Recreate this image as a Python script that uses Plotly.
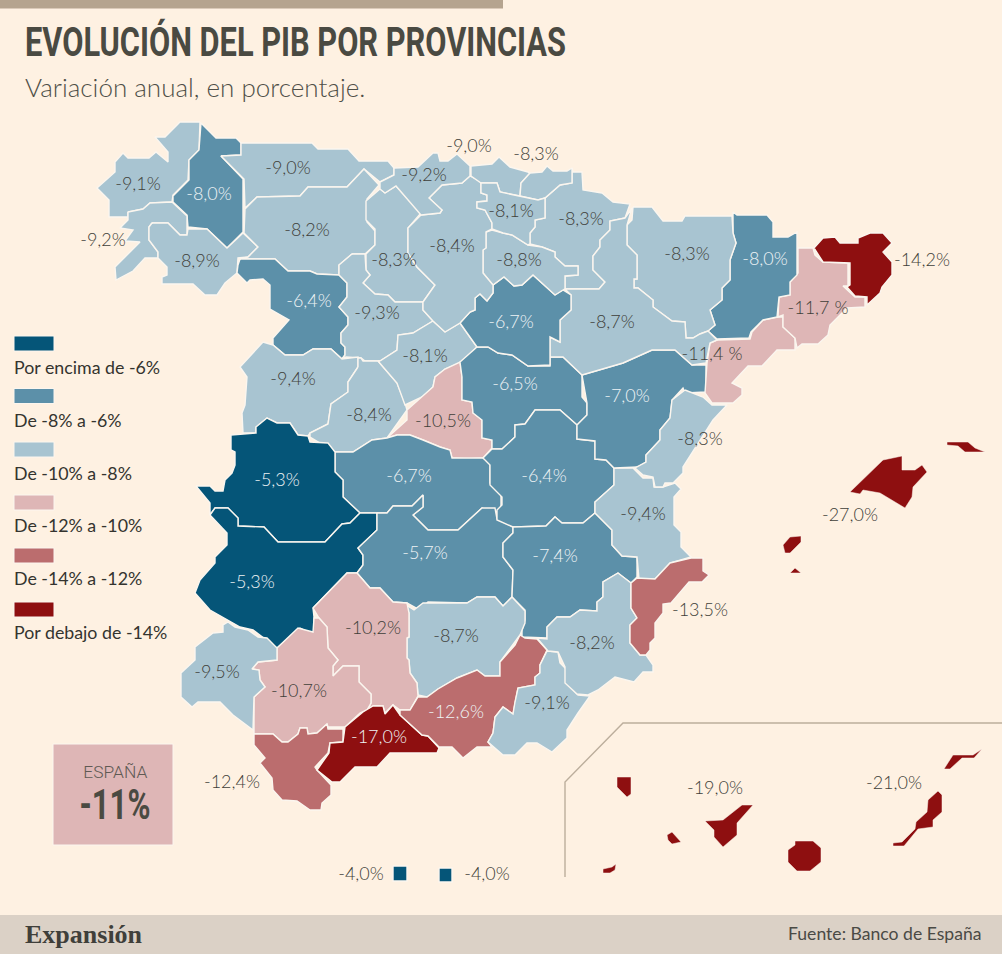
import json
import plotly.graph_objects as go

TITLE = "EVOLUCIÓN DEL PIB POR PROVINCIAS"
SUBTITLE = "Variación anual, en porcentaje."
SOURCE = "Fuente: Banco de España"
BRAND = "Expansión"
NATIONAL_LABEL = "ESPAÑA"
NATIONAL_VALUE = "-11%"

BG = "#fef1e2"
COLORS = ["#055578", "#5c90a9", "#a8c4d1", "#deb6b6", "#bb6d6e", "#8e0f10"]
LEGEND_LABELS = ["Por encima de -6%", "De -8% a -6%", "De -10% a -8%",
                 "De -12% a -10%", "De -14% a -12%", "Por debajo de -14%"]
LEGEND_Y = [336, 388.5, 442, 495, 548, 602]
LEGEND_TEXT_Y = [367, 420, 473, 525, 578, 632]

# Province outlines, in the picture's own map units
PROVINCES = {
 "A Coruña": (-9.1, [[(200,122),(180,122),(165,137),(155,137),(168,152),(168,162),(156,152),(149,158),(128,158),(123,153),(115,162),(115,172),(97,188),(109,200),(109,217),(128,217),(128,212),(143,209),(150,203),(172,202),(173,195),(188,180),(189,160),(199,150)]]),
 "Lugo": (-8.0, [[(201,123),(216,138),(236,138),(241,143),(241,155),(221,156),(243,179),(243,232),(227,248),(207,229),(188,227),(187,215),(173,202),(173,196),(189,180),(189,160),(199,150)]]),
 "Pontevedra": (-9.2, [[(128,212),(143,209),(150,203),(172,202),(187,216),(187,235),(180,235),(168,223),(152,223),(149,227),(149,240),(158,252),(158,258),(145,258),(133,271),(116,280),(115,267),(140,242),(125,241),(133,230),(120,228),(128,220)]]),
 "Ourense": (-8.9, [[(152,223),(168,223),(180,235),(187,235),(188,229),(207,229),(227,248),(243,233),(258,247),(248,257),(238,258),(237,273),(225,283),(217,295),(205,295),(193,284),(162,284),(162,277),(167,275),(167,267),(158,258),(158,252),(149,240),(149,227)]]),
 "Asturias": (-9.0, [[(241,143),(312,143),(318,149),(348,149),(359,161),(388,161),(394,168),(394,175),(380,182),(364,169),(347,187),(308,187),(300,196),(257,197),(245,208),(244,179),(221,156),(241,155)]]),
 "León": (-8.2, [[(245,209),(257,197),(300,196),(308,187),(347,187),(364,169),(379,185),(367,199),(367,222),(375,231),(375,245),(365,254),(352,254),(339,265),(339,275),(317,274),(310,271),(288,271),(275,259),(240,259),(248,257),(258,247),(244,233)]]),
 "Zamora": (-6.4, [[(240,259),(275,259),(288,271),(310,271),(317,274),(339,275),(347,283),(347,297),(339,307),(348,317),(348,325),(341,333),(341,343),(345,347),(345,355),(342,359),(331,349),(313,349),(303,355),(285,355),(273,345),(273,338),(289,320),(270,309),(270,285),(263,279),(250,280),(247,283),(237,273),(238,265)]]),
 "Palencia": (-8.3, [[(380,189),(385,193),(396,186),(421,213),(408,228),(408,253),(417,267),(435,285),(423,302),(395,302),(388,295),(375,294),(363,283),(370,275),(366,270),(366,254),(375,245),(375,229),(366,220),(366,201)]]),
 "Valladolid": (-9.3, [[(352,254),(365,254),(366,270),(370,275),(363,283),(375,294),(388,295),(395,302),(423,302),(423,310),(433,321),(423,327),(413,333),(398,335),(397,350),(380,361),(365,361),(361,358),(346,357),(342,359),(345,355),(345,347),(341,343),(341,333),(348,325),(348,317),(339,307),(347,297),(347,283),(339,275),(339,265)]]),
 "Salamanca": (-9.4, [[(263,342),(273,345),(285,355),(303,355),(313,349),(331,349),(342,359),(358,357),(358,367),(348,382),(348,392),(331,404),(328,424),(310,433),(308,436),(298,435),(290,423),(277,423),(267,418),(256,427),(256,433),(243,433),(242,413),(245,405),(247,377),(240,367)]]),
 "Ávila": (-8.4, [[(358,367),(348,382),(348,392),(331,404),(328,424),(310,433),(310,437),(335,452),(353,452),(372,440),(387,438),(407,410),(405,403),(397,383),(378,361),(363,361),(361,358),(358,358)]]),
 "Segovia": (-8.1, [[(380,361),(397,350),(398,335),(413,333),(423,327),(433,321),(445,332),(460,323),(477,347),(462,362),(460,363),(445,369),(435,377),(433,387),(422,397),(405,405),(397,383),(378,361)]]),
 "Madrid": (-10.5, [[(387,438),(407,420),(407,410),(422,397),(433,387),(435,377),(445,369),(460,362),(462,377),(462,400),(472,402),(473,413),(482,420),(482,438),(492,440),(492,448),(483,458),(468,459),(452,458),(450,450),(440,447),(423,440),(410,435),(397,435)]]),
 "Toledo": (-6.7, [[(335,452),(353,452),(372,440),(387,438),(397,435),(410,435),(423,440),(440,447),(450,450),(452,458),(483,458),(490,463),(490,483),(501,495),(501,508),(495,513),(482,508),(458,530),(428,530),(413,515),(423,507),(423,495),(412,506),(393,506),(387,513),(360,513),(343,497),(343,480),(335,472)]]),
 "Cáceres": (-5.3, [[(196,486),(210,486),(215,491),(223,491),(225,480),(232,473),(235,465),(235,452),(231,450),(231,435),(256,433),(256,427),(267,418),(277,423),(290,423),(298,435),(308,436),(310,442),(328,443),(335,452),(335,472),(343,480),(343,497),(360,513),(350,523),(342,524),(325,542),(278,542),(264,527),(238,526),(238,518),(228,508),(215,508),(210,515),(210,503)]]),
 "Badajoz": (-5.3, [[(210,515),(215,508),(228,508),(238,518),(238,526),(264,527),(278,542),(325,542),(342,524),(350,523),(360,513),(377,513),(377,530),(358,548),(363,555),(363,565),(357,573),(347,573),(313,608),(314,617),(314,635),(300,628),(277,648),(253,630),(240,627),(228,620),(210,610),(195,593),(200,580),(215,563),(215,557),(227,545),(227,533)]]),
 "Ciudad Real": (-5.7, [[(377,513),(387,513),(393,506),(412,506),(423,495),(423,507),(413,515),(428,530),(458,530),(482,508),(495,508),(497,519),(513,527),(513,533),(503,543),(503,557),(513,570),(512,597),(503,606),(495,597),(477,597),(467,603),(428,602),(420,610),(407,603),(393,602),(380,588),(370,588),(357,573),(363,565),(363,555),(358,548),(377,530)]]),
 "Guadalajara": (-6.5, [[(477,347),(488,347),(498,353),(512,355),(528,366),(550,366),(550,357),(563,357),(582,375),(582,397),(587,403),(587,415),(577,425),(560,410),(535,410),(525,424),(515,425),(515,437),(502,449),(492,449),(492,440),(482,438),(482,420),(473,413),(472,402),(462,400),(462,377),(460,362)]]),
 "Cuenca": (-6.4, [[(492,449),(502,449),(515,437),(515,425),(525,424),(535,410),(560,410),(577,425),(577,439),(595,441),(595,459),(606,460),(614,468),(614,485),(595,502),(595,513),(583,523),(562,523),(555,517),(546,526),(513,527),(497,520),(497,510),(502,505),(502,497),(490,485),(490,465),(483,458)]]),
 "Albacete": (-7.4, [[(513,527),(546,526),(555,517),(562,523),(583,523),(595,513),(612,530),(612,545),(622,556),(637,557),(637,577),(631,583),(618,573),(603,582),(603,597),(597,602),(597,611),(580,610),(570,617),(557,617),(547,627),(547,638),(522,637),(522,630),(525,620),(525,610),(512,597),(513,570),(503,557),(503,543),(513,533)]]),
 "Valencia": (-9.4, [[(614,468),(633,468),(643,478),(653,478),(654,487),(663,487),(675,483),(681,489),(674,497),(674,525),(681,532),(681,547),(691,557),(670,563),(655,579),(639,579),(637,557),(622,556),(612,545),(612,530),(595,513),(595,502),(614,485)]]),
 "Teruel": (-7.0, [[(582,375),(605,368),(623,363),(652,350),(675,350),(692,365),(706,365),(706,392),(685,393),(683,388),(672,400),(670,418),(660,430),(660,440),(646,455),(646,462),(638,467),(614,468),(606,460),(595,459),(595,441),(577,439),(577,425),(587,415),(587,403)]]),
 "Castellón": (-8.3, [[(685,390),(703,397),(712,405),(727,405),(713,420),(683,467),(683,473),(673,483),(665,483),(663,487),(655,487),(653,477),(643,475),(635,468),(646,462),(646,455),(660,440),(660,430),(670,418),(672,400)]]),
 "Tarragona": (-11.4, [[(717,340),(750,339),(752,332),(763,320),(778,317),(783,317),(783,327),(795,338),(795,350),(777,350),(762,366),(748,366),(732,383),(742,388),(742,395),(733,403),(712,403),(705,393),(707,363),(710,343)]]),
 "Barcelona": (-11.7, [[(798,248),(813,248),(815,255),(823,262),(848,263),(848,286),(843,286),(855,297),(865,297),(865,307),(847,308),(830,325),(828,335),(818,344),(802,344),(797,348),(795,338),(783,327),(783,315),(778,317),(779,297),(790,295),(790,282),(798,273)]]),
 "Girona": (-14.2, [[(814,248),(823,238),(835,237),(840,243),(858,243),(858,238),(870,233),(883,233),(892,243),(883,252),(892,262),(892,275),(882,287),(880,293),(867,305),(867,297),(855,296),(847,287),(850,285),(850,263),(823,262)]]),
 "Lleida": (-8.0, [[(733,212),(737,215),(767,215),(773,222),(773,237),(788,237),(797,232),(797,275),(790,282),(790,295),(779,297),(777,317),(763,320),(751,332),(749,338),(717,339),(708,331),(715,325),(710,310),(722,300),(722,288),(730,280),(730,260),(736,243),(733,233)]]),
 "Huesca": (-8.3, [[(633,207),(652,207),(663,221),(682,221),(685,216),(732,216),(733,233),(736,243),(730,260),(730,280),(722,288),(722,300),(710,310),(715,325),(708,331),(700,334),(693,338),(686,338),(685,322),(672,321),(653,307),(653,300),(638,288),(634,288),(634,279),(637,279),(637,255),(627,245),(627,225),(632,220)]]),
 "Navarra": (-8.3, [[(572,168),(573,172),(582,172),(583,190),(602,193),(613,202),(630,204),(625,218),(610,221),(610,230),(600,240),(600,247),(593,256),(593,270),(605,282),(599,289),(565,289),(565,276),(578,275),(578,266),(565,266),(555,257),(555,252),(542,247),(530,244),(530,233),(535,227),(535,220),(545,218),(545,198),(560,185),(572,183)]]),
 "Zaragoza": (-8.7, [[(632,208),(627,225),(627,245),(637,255),(637,279),(634,279),(634,288),(638,288),(653,300),(653,307),(672,321),(685,322),(686,338),(693,338),(700,334),(708,331),(717,340),(710,343),(706,363),(692,365),(675,350),(652,350),(623,363),(605,368),(582,375),(563,357),(550,357),(550,337),(560,342),(560,320),(571,310),(571,295),(565,289),(599,289),(605,282),(593,270),(593,256),(600,247),(600,240),(610,230),(610,221),(625,218)]]),
 "Soria": (-6.7, [[(460,323),(470,312),(475,310),(475,298),(480,294),(487,301),(493,293),(493,285),(504,277),(514,286),(522,285),(533,275),(555,295),(563,290),(571,295),(571,310),(560,320),(560,342),(550,337),(550,365),(528,366),(512,355),(498,353),(488,347),(477,347)]]),
 "La Rioja": (-8.8, [[(486,232),(492,230),(503,233),(512,235),(528,245),(542,247),(555,252),(555,257),(565,266),(578,266),(578,275),(565,276),(565,289),(563,290),(555,295),(533,275),(522,285),(514,286),(504,277),(493,285),(483,273),(483,250),(486,248)]]),
 "Burgos": (-8.4, [[(442,185),(462,183),(470,176),(481,182),(481,193),(487,195),(487,201),(477,202),(477,208),(485,210),(492,223),(492,229),(486,232),(486,248),(483,250),(483,273),(493,285),(493,293),(487,301),(480,294),(475,298),(475,310),(470,312),(460,323),(445,332),(433,321),(423,310),(423,302),(435,285),(417,267),(408,253),(408,228),(421,215),(440,213),(442,210),(429,198)]]),
 "Cantabria": (-9.2, [[(394,168),(418,167),(433,153),(438,153),(440,161),(448,161),(457,154),(470,166),(470,176),(462,183),(442,185),(429,198),(442,210),(440,213),(421,215),(396,186),(385,193),(380,189),(380,182),(394,175)]]),
 "Vizcaya": (-9.0, [[(471,166),(492,164),(499,157),(510,167),(528,172),(530,173),(521,183),(520,196),(510,194),(500,192),(497,183),(481,183),(471,176)]]),
 "Guipúzcoa": (-8.3, [[(530,173),(542,172),(547,166),(553,171),(567,171),(572,168),(572,183),(560,185),(545,198),(538,200),(520,196),(521,183)]]),
 "Álava": (-8.1, [[(481,183),(497,183),(500,192),(510,194),(520,196),(538,200),(545,198),(545,218),(535,220),(535,227),(530,233),(530,244),(528,245),(512,235),(503,233),(492,229),(492,223),(485,210),(477,208),(477,202),(487,201),(487,195),(481,193)]]),
 "Jaén": (-8.7, [[(403,603),(414,610),(423,603),(467,603),(477,597),(495,597),(503,606),(512,597),(525,611),(525,623),(520,635),(500,662),(500,676),(485,676),(477,670),(457,678),(438,689),(427,697),(418,695),(417,683),(410,673),(409,660),(407,658),(407,638),(409,637),(409,613)]]),
 "Córdoba": (-10.2, [[(313,608),(347,573),(357,573),(370,588),(380,588),(393,602),(407,603),(409,613),(409,637),(407,638),(407,658),(409,660),(410,673),(417,683),(418,696),(410,710),(400,710),(393,705),(385,713),(383,706),(373,706),(367,712),(371,703),(371,694),(359,682),(359,666),(343,666),(333,676),(333,666),(338,660),(328,648),(327,627),(319,618)]]),
 "Sevilla": (-10.7, [[(277,648),(298,628),(313,632),(314,618),(319,618),(327,627),(328,648),(338,660),(333,666),(333,676),(343,666),(359,666),(359,682),(371,694),(371,703),(367,710),(360,713),(345,727),(328,727),(327,724),(317,733),(308,734),(307,728),(300,728),(298,734),(288,742),(282,742),(273,734),(254,734),(254,697),(265,687),(260,680),(259,670),(252,669),(258,662),(277,660)]]),
 "Huelva": (-9.5, [[(228,622),(235,627),(248,630),(258,637),(267,638),(277,648),(277,660),(258,662),(252,669),(259,670),(260,680),(265,687),(254,697),(253,730),(233,715),(220,702),(198,702),(192,707),(181,697),(181,673),(195,660),(195,647),(213,633),(223,632),(223,625)]]),
 "Cádiz": (-12.4, [[(254,734),(273,734),(282,742),(288,742),(298,734),(300,728),(307,728),(308,734),(317,733),(327,724),(328,729),(343,729),(343,742),(330,743),(328,753),(315,767),(317,770),(331,785),(331,795),(322,803),(321,810),(310,810),(297,801),(282,800),(273,790),(272,778),(260,763),(265,758),(254,745)]]),
 "Málaga": (-17.0, [[(345,727),(363,712),(373,706),(383,706),(385,714),(393,705),(400,715),(422,735),(428,736),(439,748),(437,753),(390,753),(377,767),(355,767),(340,782),(332,782),(317,770),(329,753),(330,743),(343,742)]]),
 "Granada": (-12.6, [[(520,635),(525,638),(537,639),(547,650),(540,665),(540,673),(535,677),(535,685),(518,688),(515,702),(513,714),(503,707),(495,717),(493,733),(488,742),(492,747),(477,747),(463,758),(452,747),(439,747),(428,736),(422,735),(400,715),(400,710),(410,710),(418,697),(427,697),(438,689),(457,678),(477,670),(485,676),(500,676),(500,662),(515,645)]]),
 "Almería": (-9.1, [[(547,651),(558,652),(560,663),(567,670),(567,683),(578,695),(590,696),(578,713),(567,730),(567,738),(552,752),(537,743),(527,743),(515,755),(503,755),(488,742),(493,733),(495,717),(503,707),(513,714),(515,702),(518,688),(535,685),(535,677),(540,673),(540,665)]]),
 "Murcia": (-8.2, [[(537,638),(547,639),(547,627),(557,617),(570,617),(580,610),(597,611),(597,602),(603,597),(603,582),(618,573),(631,583),(631,608),(637,618),(630,625),(630,643),(640,655),(646,655),(653,665),(653,672),(643,672),(634,682),(615,677),(598,690),(588,695),(577,694),(565,683),(565,667),(558,652),(548,651)]]),
 "Alicante": (-13.5, [[(691,558),(703,558),(703,571),(709,575),(702,582),(689,582),(671,603),(663,604),(663,613),(655,623),(655,638),(650,643),(650,650),(646,655),(640,655),(630,643),(630,625),(637,618),(631,608),(631,583),(637,578),(655,579),(670,563)]]),
 "Baleares": (-27.0, [
   [(850,492),(883,460),(902,456),(902,470),(915,470),(922,465),(927,472),(913,487),(912,497),(905,508),(880,493),(863,490),(860,494)],
   [(947,442),(968,442),(975,448),(985,452),(965,452),(958,446),(947,445)],
   [(783,545),(790,537),(801,536),(801,542),(790,553),(785,553)],
   [(790,573),(795,568),(801,573)]]),
 "Santa Cruz de Tenerife": (-19.0, [
   [(617,777),(631,777),(631,794),(627,797),(617,787)],
   [(667,835),(672,832),(681,842),(672,844),(668,840)],
   [(603,869),(612,867),(616,864),(615,870),(610,873),(603,873)],
   [(705,821),(723,820),(742,805),(753,805),(737,823),(737,835),(723,847),(714,837),(714,830)]]),
 "Las Palmas": (-21.0, [
   [(795,841),(813,841),(821,848),(821,862),(810,871),(797,871),(788,862),(788,850),(795,845)],
   [(893,843),(902,842),(915,829),(916,822),(927,812),(928,800),(938,791),(942,795),(942,812),(933,820),(933,827),(918,829),(904,846),(893,846)],
   [(944,769),(953,755),(973,755),(982,749),(974,758),(962,758),(950,769)]]),
 "Ceuta": (-4.0, [[(393,866),(407,866),(407,881),(393,881)]]),
 "Melilla": (-4.0, [[(439,868),(452,868),(452,882),(439,882)]]),
}
# The map paints this province one class darker-to-lighter than its number implies
CLASS_OVERRIDE = {"Ciudad Real": 1}
THIN_OUTLINE = ["Baleares", "Santa Cruz de Tenerife", "Las Palmas"]

INSET_X = [1002, 623, 565, 565]
INSET_Y = [723, 723, 782, 877]

LABEL_TEXT = ["-9,1%","-8,0%","-9,2%","-8,9%","-9,0%","-8,2%","-8,3%","-9,2%","-9,0%","-8,3%","-8,1%","-8,3%","-8,4%","-8,8%",
              "-8,3%","-8,0%","-14,2%","-11,7 %","-6,4%","-9,3%","-6,7%","-8,7%","-11,4 %","-8,1%","-6,5%","-7,0%","-9,4%","-8,4%",
              "-10,5%","-8,3%","-6,7%","-6,4%","-5,3%","-9,4%","-27,0%","-5,7%","-7,4%","-5,3%","-13,5%","-10,2%","-8,7%","-8,2%",
              "-9,5%","-10,7%","-9,1%","-12,6%","-17,0%","-12,4%","-19,0%","-21,0%","-4,0%","-4,0%"]
LABEL_X = [138,209,103,197,288,307,394,424,469,536,511,581,452,519,687,765,922,818,309,377,511,612,712,425,515,627,293,369,
           443,700,409,544,277,643,850,425,555,252,700,373,456,592,217,299,547,456,379,232,715,894,361,487]
LABEL_Y = [185,195,241,262,169,231,261,176,147,155,212,220,247,261,255,260,261,309,302,314,323,323,355,357,385,397,380,416,
           422,440,477,477,481,515,516,554,557,583,611,629,637,644,673,692,704,713,738,783,789,784,875,875]
LABEL_LIGHT = [0,1,0,0,0,0,0,0,0,0,0,0,0,0,0,1,0,0,1,0,1,0,0,0,1,1,0,0,0,0,1,1,1,0,0,1,1,1,0,0,0,0,0,0,0,1,1,0,0,0,0,0]

def colour_of(name, v):
    if name in CLASS_OVERRIDE: return COLORS[CLASS_OVERRIDE[name]]
    if v > -6: return COLORS[0]
    if v >= -8: return COLORS[1]
    if v >= -10: return COLORS[2]
    if v >= -12: return COLORS[3]
    if v >= -14: return COLORS[4]
    return COLORS[5]

fig = go.Figure()
for name, (value, parts) in PROVINCES.items():
    xs, ys = [], []
    for part in parts:
        xs += [p[0] for p in part] + [part[0][0], None]
        ys += [p[1] for p in part] + [part[0][1], None]
    fig.add_trace(go.Scatter(x=xs, y=ys, mode="lines", fill="toself", fillcolor=colour_of(name, value),
                             line=dict(color="#fbf6ef", width=0.5 if name in THIN_OUTLINE else 1.4),
                             name=name, showlegend=False, hoverinfo="name"))

fig.add_trace(go.Scatter(x=INSET_X, y=INSET_Y, mode="lines", line=dict(color="#bcae9c", width=1.4),
                         showlegend=False, hoverinfo="skip"))

for i in [0, 1]:
    sel = [j for j, l in enumerate(LABEL_LIGHT) if l == i]
    fig.add_trace(go.Scatter(x=[LABEL_X[j] for j in sel], y=[LABEL_Y[j] for j in sel],
                             text=[LABEL_TEXT[j] for j in sel], mode="text", textposition="middle center",
                             textfont=dict(family="Lato", size=18, weight=300, color="#eef3f5" if i else "#3f3f39"),
                             showlegend=False, hoverinfo="skip"))

shapes = [
    dict(type="rect", x0=0, x1=503, y0=0, y1=8.5, fillcolor="#b5a48f", line_width=0, layer="below"),
    dict(type="rect", x0=0, x1=1002, y0=915, y1=954, fillcolor="#dbd1c6", line_width=0, layer="below"),
    dict(type="rect", x0=53, x1=173, y0=744, y1=845, fillcolor=COLORS[3], line=dict(color="#fbf6ef", width=1), layer="below"),
]
annotations = []
def text(x, y, s, size, color, family="Lato", anchor="left", weight=None):
    annotations.append(dict(x=x, y=y, xref="x", yref="y", text=s, showarrow=False,
                            xanchor=anchor, yanchor="middle", align=anchor,
                            font=dict(family=family, size=size, color=color, **({"weight": weight} if weight else {}))))

for c, y0, lab, ty in zip(COLORS, LEGEND_Y, LEGEND_LABELS, LEGEND_TEXT_Y):
    shapes.append(dict(type="rect", x0=14, x1=54, y0=y0, y1=y0 + 15, fillcolor=c,
                       line=dict(color="#fbf6ef", width=1), layer="below"))
    text(12, ty, lab, 17.8, "#34342f")

text(23, 42, TITLE, 41, "#4a4a42", family="Roboto", weight=700)
text(23, 87, SUBTITLE, 26, "#4f4f48", weight=300)
text(115, 772, NATIONAL_LABEL, 17, "#5f5a54", family="Roboto", anchor="center", weight=300)
text(115, 804, NATIONAL_VALUE, 42, "#4a4a42", family="Roboto", anchor="center", weight=700)
text(23, 934, BRAND, 26, "#3f3f3a", family="Liberation Serif", weight=700)
text(984, 933, SOURCE, 17.6, "#4a4a45", anchor="right")

fig.update_layout(
    width=1002, height=954, margin=dict(l=0, r=0, t=0, b=0),
    paper_bgcolor=BG, plot_bgcolor=BG, shapes=shapes, annotations=annotations, showlegend=False,
    xaxis=dict(range=[0, 1002], visible=False, fixedrange=True),
    yaxis=dict(range=[954, 0], visible=False, fixedrange=True),
)
# Narrow display faces are not installed: condense the two headline strings to their real widths
squeeze = json.dumps({TITLE: 541, NATIONAL_VALUE: 71, NATIONAL_LABEL: 64}, ensure_ascii=False)
post = ("document.body.style.margin='0';document.body.style.background='#fef1e2';"
        "var m=" + squeeze + ";document.querySelectorAll('text.annotation-text').forEach(function(t){"
        "var w=m[t.textContent];if(w){t.setAttribute('textLength',w);t.setAttribute('lengthAdjust','spacingAndGlyphs');}});")
fig.write_html("out.html", config={"displayModeBar": False}, post_script=post)
